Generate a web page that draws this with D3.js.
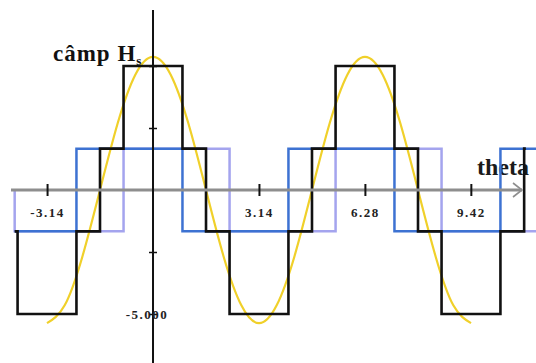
<!DOCTYPE html>
<html>
<head>
<meta charset="utf-8">
<script src="https://cdn.jsdelivr.net/npm/d3@7"></script>
<style>
  html, body { margin: 0; padding: 0; background: #ffffff; }
  svg { display: block; }
  text { font-family: "Liberation Serif", "DejaVu Serif", serif; }
</style>
</head>
<body>
<svg id="chart" width="536" height="363"></svg>
<script>
// Three coil fields (square waves), their sum (stepped field) and its fundamental.
const thetaTicks = [-3.14, 3.14, 6.28, 9.42];
const thetaTickLabels = ["-3.14", "3.14", "6.28", "9.42"];
const fieldTicks = [5, 2.5, -2.5, -5];
const fieldTickLabels = ["", "", "", "-5.000"];

// coil A (dark blue): switching angles and levels between them
const edgesA = [-4.1, -2.269, 0.873, 4.014, 7.156, 10.297, 11.36];
const levelsA = [-1.667, 1.667, -1.667, 1.667, -1.667, 1.667];

// coil C (lavender)
const edgesC = [-4.1, -4.1, -0.873, 2.269, 5.411, 8.552, 11.36];
const levelsC = [0, -1.667, 1.667, -1.667, 1.667, -1.667];

// resulting stepped field (black)
const edgesH = [-4.1, -4.014, -2.269, -1.571, -0.873, 0.873, 1.571, 2.269,
                4.014, 4.712, 5.411, 7.156, 7.854, 8.552, 10.297, 11.0, 11.05];
const levelsH = [-1.667, -5, -1.667, 1.667, 5, 1.667, -1.667, -5,
                 -1.667, 1.667, 5, 1.667, -1.667, -5, -1.667, 1.667];

// fundamental component (yellow)
const thetaF = [-3.142, -2.618, -2.094, -1.571, -1.047, -0.524, 0, 0.524, 1.047, 1.571,
                2.094, 2.618, 3.142, 3.665, 4.189, 4.712, 5.236, 5.760, 6.283, 6.807,
                7.330, 7.854, 8.378, 8.901, 9.425];
const valuesF = [-5.37, -4.65, -2.69, 0, 2.69, 4.65, 5.37, 4.65, 2.69, 0,
                 -2.69, -4.65, -5.37, -4.65, -2.69, 0, 2.69, 4.65, 5.37, 4.65,
                 2.69, 0, -2.69, -4.65, -5.37];

const svg = d3.select("#chart");

const x = d3.scaleLinear().domain([-4.2, 11.2]).range([11.3, 530.9]);
const y = d3.scaleLinear().domain([-5, 5]).range([314, 66]);

function stepPoints(edges, levels) {
  const pts = levels.map((v, i) => [edges[i], v]);
  pts.push([edges[edges.length - 1], levels[levels.length - 1]]);
  return pts;
}

const stepLine = d3.line()
  .x(d => x(d[0]))
  .y(d => y(d[1]))
  .curve(d3.curveStepAfter);

// axis name on the horizontal axis (sits under the curves)
svg.append("text")
  .attr("x", 477).attr("y", 175)
  .attr("font-size", 24).attr("font-weight", "bold")
  .attr("fill", "#1a1a1a")
  .text("theta");

// coil C
svg.append("path")
  .attr("d", stepLine(stepPoints(edgesC, levelsC)))
  .attr("fill", "none").attr("stroke", "#a4a4ee").attr("stroke-width", 2.5);

// coil A
svg.append("path")
  .attr("d", stepLine(stepPoints(edgesA, levelsA)))
  .attr("fill", "none").attr("stroke", "#3d72d2").attr("stroke-width", 2.5);

// fundamental
svg.append("path")
  .attr("d", d3.line().x((d, i) => x(thetaF[i])).y(d => y(d)).curve(d3.curveNatural)(valuesF))
  .attr("fill", "none").attr("stroke", "#f0d02a").attr("stroke-width", 2.2);

// stepped field
svg.append("path")
  .attr("d", stepLine(stepPoints(edgesH, levelsH)))
  .attr("fill", "none").attr("stroke", "#111111").attr("stroke-width", 2.6);

// horizontal axis
const gx = svg.append("g").attr("transform", `translate(0,${y(0)})`);
gx.append("line")
  .attr("x1", 11).attr("x2", 522).attr("y1", 0).attr("y2", 0)
  .attr("stroke", "#8e8e8e").attr("stroke-width", 3);
gx.append("path")
  .attr("d", "M513,-7 L522,0 L513,7")
  .attr("fill", "none").attr("stroke", "#8e8e8e").attr("stroke-width", 1.6);
gx.call(d3.axisBottom(x).tickValues(thetaTicks)
    .tickFormat((d, i) => thetaTickLabels[i]).tickSize(6));
gx.select(".domain").remove();
gx.selectAll(".tick line")
  .attr("y1", -6).attr("y2", 6)
  .attr("stroke", "#111").attr("stroke-width", 2);
gx.selectAll(".tick text")
  .attr("y", 18).attr("dy", "0.71em")
  .attr("font-family", "Liberation Serif, serif")
  .attr("font-size", 13).attr("font-weight", "bold")
  .attr("letter-spacing", 1.5)
  .attr("fill", "#222");

// vertical axis
const gy = svg.append("g").attr("transform", `translate(${x(0)},0)`);
gy.append("line")
  .attr("x1", 0).attr("x2", 0).attr("y1", 10).attr("y2", 363)
  .attr("stroke", "#111").attr("stroke-width", 2);
gy.call(d3.axisLeft(y).tickValues(fieldTicks)
    .tickFormat((d, i) => fieldTickLabels[i]).tickSize(4));
gy.select(".domain").remove();
gy.selectAll(".tick line")
  .attr("x1", -4).attr("x2", 4)
  .attr("stroke", "#111").attr("stroke-width", 1.5);
gy.selectAll(".tick text")
  .attr("x", -6).attr("dy", "0.32em")
  .attr("text-anchor", "middle")
  .attr("font-family", "Liberation Serif, serif")
  .attr("font-size", 13).attr("font-weight", "bold")
  .attr("letter-spacing", 1.5)
  .attr("fill", "#222");

// quantity name on the vertical axis
const lab = svg.append("text")
  .attr("x", 53).attr("y", 61)
  .attr("font-size", 23).attr("font-weight", "bold")
  .attr("letter-spacing", 1)
  .attr("fill", "#111");
lab.append("tspan").text("câmp H");
lab.append("tspan").attr("font-size", 13).attr("dy", 4).text("s");
</script>
</body>
</html>
